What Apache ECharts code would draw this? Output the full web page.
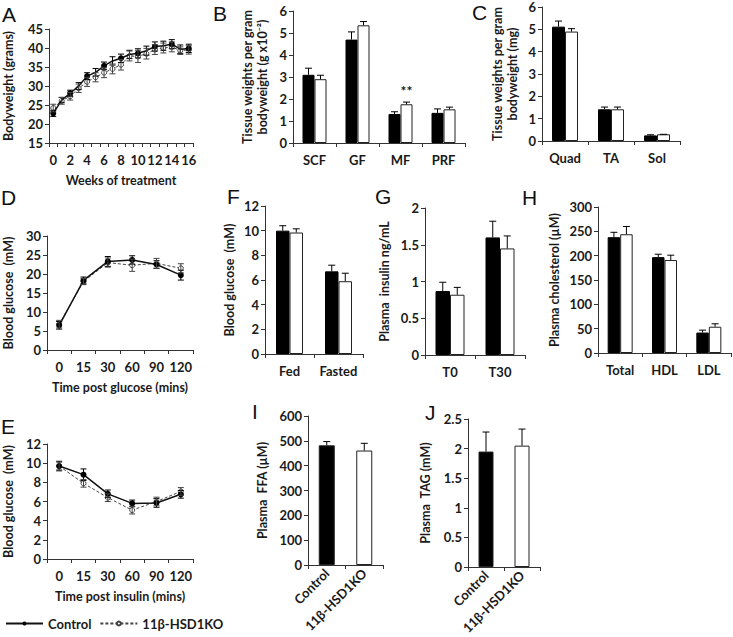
<!DOCTYPE html>
<html>
<head>
<meta charset="utf-8">
<script src="https://cdn.jsdelivr.net/npm/echarts@6/dist/echarts.min.js"></script>
<style>html,body{margin:0;padding:0;background:#fff}#c{width:733px;height:637px}</style>
</head>
<body>
<div id="c"></div>
<script>
// ---------- DATA ----------
const groups = ['Control', '11β-HSD1KO'];
const panelLetters = ['A','B','C','D','E','F','G','H','I','J'];

// A: bodyweight
const weeks = ['0','1','2','3','4','5','6','7','8','9','10','11','12','13','14','15','16'];
const bwCtrl    = [22.8,26.3,28.1,30.0,32.6,33.6,35.3,36.6,37.3,38.3,38.6,39.3,40.4,40.6,41.0,39.7,39.9];
const bwCtrlErr = [0.8,0.7,0.8,0.9,0.9,1.0,1.0,1.1,1.1,1.1,1.2,1.2,1.2,1.2,1.2,1.1,1.1];
const bwKO      = [24.2,26.1,27.3,29.4,31.1,32.3,33.5,34.5,35.6,37.9,37.8,38.5,39.6,40.0,40.3,39.3,39.5];
const bwKOErr   = [1.0,0.9,1.0,1.1,1.2,1.2,1.3,1.3,1.4,1.3,1.6,1.4,1.3,1.3,1.3,1.0,1.1];

// B: adipose tissue weights
const adiposeCats    = ['SCF','GF','MF','PRF'];
const adiposeCtrl    = [3.1, 4.7, 1.32, 1.37];
const adiposeCtrlErr = [0.3, 0.35, 0.1, 0.18];
const adiposeKO      = [2.9, 5.35, 1.76, 1.53];
const adiposeKOErr   = [0.18, 0.17, 0.1, 0.1];
const adiposeSig     = ['', '', '**', ''];

// C: muscle weights
const muscleCats    = ['Quad','TA','Sol'];
const muscleCtrl    = [5.12, 1.42, 0.25];
const muscleCtrlErr = [0.25, 0.1, 0.03];
const muscleKO      = [4.9, 1.42, 0.3];
const muscleKOErr   = [0.13, 0.1, 0.0];

// D: GTT
const gttTimes   = ['0','15','30','60','90','120'];
const gttCtrl    = [6.5, 18.3, 23.3, 23.7, 22.5, 19.7];
const gttCtrlErr = [1.0, 0.9, 1.3, 1.1, 1.0, 1.3];
const gttKO      = [6.8, 18.0, 23.0, 22.3, 22.8, 21.5];
const gttKOErr   = [1.0, 0.8, 1.2, 1.6, 1.3, 1.2];

// E: ITT
const ittTimes   = ['0','15','30','60','90','120'];
const ittCtrl    = [9.7, 8.8, 6.8, 5.8, 5.85, 6.75];
const ittCtrlErr = [0.5, 0.6, 0.4, 0.35, 0.45, 0.4];
const ittKO      = [9.7, 7.9, 6.4, 5.1, 6.0, 7.05];
const ittKOErr   = [0.4, 0.4, 0.4, 0.4, 0.45, 0.4];

// F: blood glucose
const glucoseCats    = ['Fed','Fasted'];
const glucoseCtrl    = [10.0, 6.7];
const glucoseCtrlErr = [0.4, 0.5];
const glucoseKO      = [9.85, 5.9];
const glucoseKOErr   = [0.3, 0.65];

// G: plasma insulin
const insulinCats    = ['T0','T30'];
const insulinCtrl    = [0.87, 1.6];
const insulinCtrlErr = [0.12, 0.22];
const insulinKO      = [0.82, 1.45];
const insulinKOErr   = [0.1, 0.17];

// H: plasma cholesterol
const cholCats    = ['Total','HDL','LDL'];
const cholCtrl    = [238, 197, 42];
const cholCtrlErr = [10, 6, 5];
const cholKO      = [244, 191, 54];
const cholKOErr   = [16, 10, 6];

// I: plasma FFA
const ffaValues = [482, 461];
const ffaErr    = [15, 29];

// J: plasma TAG
const tagValues = [1.95, 2.05];
const tagErr    = [0.33, 0.28];

// ---------- STYLE / LAYOUT ----------
const FONT = 'Lato';
const INK = '#1a1a1a';
const grids = [
  {left:47,  top:29,  width:146, height:114}, // A
  {left:293, top:11,  width:172, height:132}, // B
  {left:542, top:7,   width:138, height:134}, // C
  {left:47,  top:236, width:146, height:114}, // D
  {left:47,  top:444, width:146, height:115}, // E
  {left:265, top:206, width:98,  height:148}, // F
  {left:425, top:208, width:100, height:147}, // G
  {left:598, top:207, width:133, height:146}, // H
  {left:308, top:416, width:75,  height:149}, // I
  {left:468, top:419, width:72,  height:148}  // J
];
const letterPos = [[2,14],[213,13],[472,12],[1,197],[1,426],[227,196],[375,196],[522,197],[252,411],[425,412]];

const txt = (size) => ({fontFamily:FONT, fontWeight:'bold', fontSize:size||12, color:INK});
const axisLine = {show:true, lineStyle:{color:'#333', width:1}};
const TICK = 13, NAME = 12.5;

const xAxes = new Array(10), yAxes = new Array(10), series = [];

function addX(i, cats, extra) {
  xAxes[i] = Object.assign({
    type:'category', gridIndex:i, data:cats, boundaryGap:true,
    axisLine: axisLine,
    axisTick:{show:true, length:4, interval:0, lineStyle:{color:'#333'}},
    axisLabel:Object.assign({interval:0, margin:10}, txt(TICK)),
    nameTextStyle: txt(NAME)
  }, extra || {});
}
function addY(i, min, max, interval, name, nameGap, extra) {
  yAxes[i] = Object.assign({
    type:'value', gridIndex:i, min:min, max:max, interval:interval,
    axisLine: axisLine,
    axisTick:{show:true, length:4, lineStyle:{color:'#333'}},
    splitLine:{show:false},
    axisLabel:Object.assign({margin:6}, txt(TICK)),
    name:name, nameLocation:'middle', nameRotate:90, nameGap:nameGap,
    nameTextStyle:Object.assign({lineHeight:15}, txt(NAME))
  }, extra || {});
}

function errSeries(i, vals, errs, offset, capW, both, color) {
  return {
    type:'custom', xAxisIndex:i, yAxisIndex:i, z:10, silent:true,
    encode:{x:0, y:1},
    data: vals.map((v, k) => [k, v, errs[k]]),
    renderItem: function (params, api) {
      const k = api.value(0), v = api.value(1), e = api.value(2);
      const p = api.coord([k, v]);
      const hi = api.coord([k, v + e]);
      const lo = api.coord([k, v - e]);
      const x = p[0] + offset;
      const st = {stroke: color || '#000', lineWidth: 1};
      const top = hi[1], bot = both ? lo[1] : p[1];
      const ch = [
        {type:'line', shape:{x1:x, y1:top, x2:x, y2:bot}, style:st},
        {type:'line', shape:{x1:x - capW/2, y1:top, x2:x + capW/2, y2:top}, style:st}
      ];
      if (both) ch.push({type:'line', shape:{x1:x - capW/2, y1:bot, x2:x + capW/2, y2:bot}, style:st});
      return {type:'group', children:ch};
    }
  };
}

function lineSeries(i, ctrl, ctrlErr, ko, koErr) {
  series.push({
    name:groups[0], type:'line', xAxisIndex:i, yAxisIndex:i, data:ctrl,
    symbol:'circle', symbolSize:6, z:5,
    itemStyle:{color:'#000'}, lineStyle:{color:'#111', width:1.5}
  });
  series.push({
    name:groups[1], type:'line', xAxisIndex:i, yAxisIndex:i, data:ko,
    symbol:'circle', symbolSize:5, z:4,
    itemStyle:{color:'#fff', borderColor:'#444', borderWidth:1},
    lineStyle:{color:'#444', width:1, type:[3,2]}
  });
  series.push(errSeries(i, ctrl, ctrlErr, 0, 6, true, '#000'));
  series.push(errSeries(i, ko, koErr, 0, 6, true, '#444'));
}

function pairBars(i, ctrl, ctrlErr, ko, koErr, bw, sig) {
  series.push({
    name:groups[0], type:'bar', xAxisIndex:i, yAxisIndex:i, data:ctrl,
    barWidth:bw, barGap:'0%',
    itemStyle:{color:'#000', borderColor:'#000', borderWidth:1}
  });
  const ko1 = {
    name:groups[1], type:'bar', xAxisIndex:i, yAxisIndex:i, data:ko,
    barWidth:bw, barGap:'0%',
    itemStyle:{color:'#fff', borderColor:'#222', borderWidth:1}
  };
  if (sig) {
    ko1.label = Object.assign({show:true, position:'top', distance:7,
      formatter: p => sig[p.dataIndex]}, txt(14));
  }
  series.push(ko1);
  series.push(errSeries(i, ctrl, ctrlErr, -bw/2, 7, false));
  series.push(errSeries(i, ko, koErr, bw/2, 7, false));
}

function singleBars(i, vals, errs, bw) {
  series.push({
    name:'values' + i, type:'bar', xAxisIndex:i, yAxisIndex:i, barWidth:bw,
    data: vals.map((v, k) => ({value:v, itemStyle:{color: k === 0 ? '#000' : '#fff'}})),
    itemStyle:{borderColor:'#222', borderWidth:1}
  });
  series.push(errSeries(i, vals, errs, 0, 7, false));
}

// axes
addX(0, weeks, {name:'Weeks of treatment', nameLocation:'middle', nameGap:31,
  axisLabel:Object.assign({interval:1, margin:10}, txt(TICK))});
addY(0, 15, 45, 5, 'Bodyweight (grams)', 33);
addX(1, adiposeCats);
addY(1, 0, 6, 1, 'Tissue weights per gram\nbodyweight (g x10⁻²)', 23);
addX(2, muscleCats);
addY(2, 0, 6, 1, 'Tissue weights per gram\nbodyweight (mg)', 22);
addX(3, gttTimes, {name:'Time post glucose (mins)', nameLocation:'middle', nameGap:31});
addY(3, 0, 30, 5, 'Blood glucose  (mM)', 31);
addX(4, ittTimes, {name:'Time post insulin (mins)', nameLocation:'middle', nameGap:31});
addY(4, 0, 12, 2, 'Blood glucose  (mM)', 31);
addX(5, glucoseCats);
addY(5, 0, 12, 2, 'Blood glucose  (mM)', 28);
addX(6, insulinCats);
addY(6, 0, 2, 0.5, 'Plasma  insulin ng/mL', 33);
addX(7, cholCats);
addY(7, 0, 300, 50, 'Plasma cholesterol (µM)', 36);
addX(8, groups, {axisLabel:Object.assign({interval:0, rotate:45, margin:6}, txt(TICK))});
addY(8, 0, 600, 100, 'Plasma  FFA (µM)', 38);
addX(9, groups, {axisLabel:Object.assign({interval:0, rotate:45, margin:6}, txt(TICK))});
addY(9, 0, 2.5, 0.5, 'Plasma  TAG (mM)', 35);

// series
lineSeries(0, bwCtrl, bwCtrlErr, bwKO, bwKOErr);
lineSeries(3, gttCtrl, gttCtrlErr, gttKO, gttKOErr);
lineSeries(4, ittCtrl, ittCtrlErr, ittKO, ittKOErr);
pairBars(1, adiposeCtrl, adiposeCtrlErr, adiposeKO, adiposeKOErr, 12, adiposeSig);
pairBars(2, muscleCtrl, muscleCtrlErr, muscleKO, muscleKOErr, 13);
pairBars(5, glucoseCtrl, glucoseCtrlErr, glucoseKO, glucoseKOErr, 13.5);
pairBars(6, insulinCtrl, insulinCtrlErr, insulinKO, insulinKOErr, 14.5);
pairBars(7, cholCtrl, cholCtrlErr, cholKO, cholKOErr, 12.5);
singleBars(8, ffaValues, ffaErr, 16);
singleBars(9, tagValues, tagErr, 15);

const letters = panelLetters.map((L, k) => ({
  type:'text', x:letterPos[k][0], y:letterPos[k][1],
  style:{text:L, fontFamily:'Liberation Sans', fontSize:21, fill:'#111', verticalAlign:'middle'}
}));

const option = {
  animation:false,
  backgroundColor:'#fff',
  grid: grids,
  xAxis: xAxes,
  yAxis: yAxes,
  legend: {
    data: groups, left:0, top:612, itemWidth:37, itemHeight:5, itemGap:8,
    textStyle: txt(13), selectedMode:false
  },
  graphic: {elements: letters},
  series: series
};

const chart = echarts.init(document.getElementById('c'), null, {renderer:'svg'});
chart.setOption(option);
</script>
</body>
</html>
